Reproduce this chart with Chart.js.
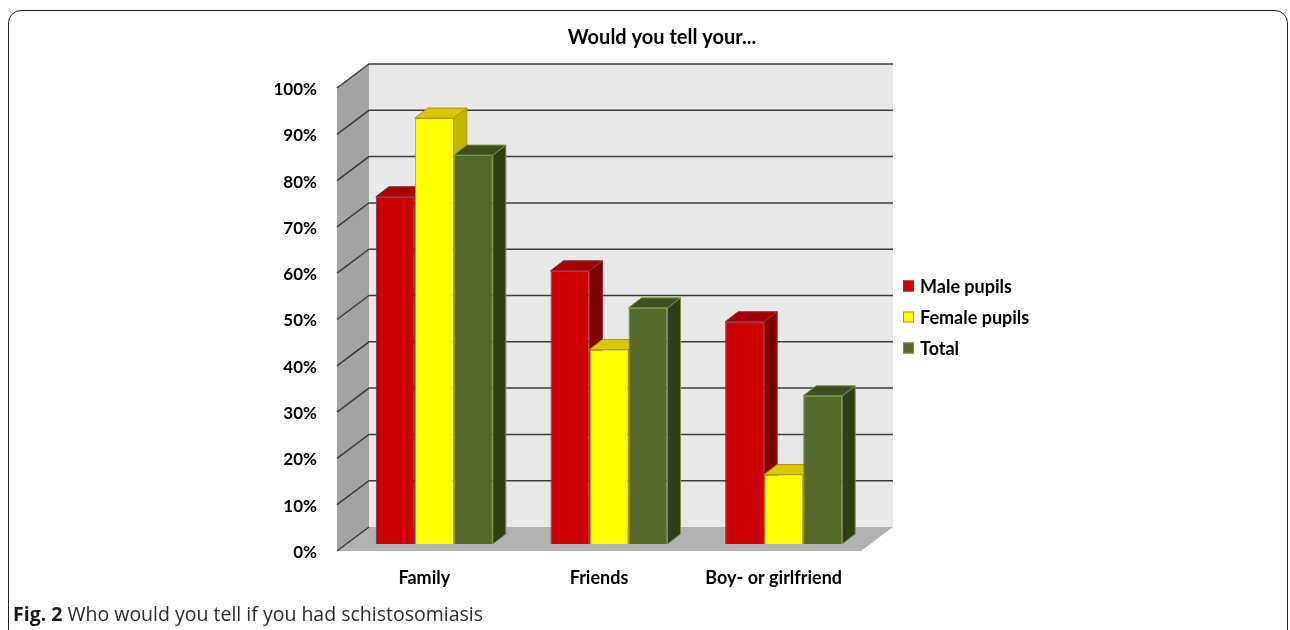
<!DOCTYPE html>
<html><head><meta charset="utf-8">
<script src="https://cdn.jsdelivr.net/npm/chart.js@4.4.1/dist/chart.umd.min.js"></script>
<style>
html,body{margin:0;padding:0;background:#fff;width:1290px;height:630px;overflow:hidden;}
#wrap{position:absolute;left:0;top:0;width:1290px;height:630px;}
#frame{position:absolute;left:8px;top:10px;width:1280px;height:700px;border:1.6px solid #1e1e1e;border-radius:13px;box-sizing:border-box;}
#caption{position:absolute;left:13px;top:600px;font-family:"Open Sans",sans-serif;font-size:19.5px;color:#2a2a2a;white-space:nowrap;}
#caption b{color:#1a1a1a;}
</style></head>
<body>
<div id="frame"></div>
<div id="wrap"><canvas id="c" width="1290" height="630"></canvas></div>
<div id="caption"><b>Fig. 2</b> Who would you tell if you had schistosomiasis</div>
<script>
const chartTitle = 'Would you tell your...';
const categories = ['Family', 'Friends', 'Boy- or girlfriend'];
const seriesNames = ['Male pupils', 'Female pupils', 'Total'];
const malePupils = [75, 59, 48];
const femalePupils = [92, 42, 15];
const totalPupils = [84, 51, 32];
const yTickValues = [0, 10, 20, 30, 40, 50, 60, 70, 80, 90, 100];

const frontColors = ['#cc0000', '#ffff00', '#55692a'];
const borderColors = ['#8a2848', '#b8901a', '#7f8f3c'];
const sideColors = ['#7e0000', '#c4b600', '#2f3e16'];
const topColors = ['#a40000', '#d8ca00', '#3f5020'];

const FONT = 'Lato, "Liberation Sans", sans-serif';

const threeD = {
  id: 'threeD',
  beforeDatasetsDraw(chart) {
    const { ctx, chartArea: a, scales } = chart;
    const y = scales.y;
    const BX = 22, BY = -17, FX = -10, FY = 7;
    const y0 = y.getPixelForValue(0), y100 = y.getPixelForValue(100);
    ctx.save();
    ctx.fillStyle = '#e8e8e8';
    ctx.fillRect(a.left + BX, y100 + BY, a.right - a.left, y0 - y100);
    ctx.fillStyle = '#a3a3a3';
    ctx.beginPath();
    ctx.moveTo(a.left + FX, y100 + FY);
    ctx.lineTo(a.left + BX, y100 + BY);
    ctx.lineTo(a.left + BX, y0 + BY);
    ctx.lineTo(a.left + FX, y0 + FY);
    ctx.closePath();
    ctx.fill();
    ctx.fillStyle = '#b2b2b2';
    ctx.beginPath();
    ctx.moveTo(a.left + FX, y0 + FY);
    ctx.lineTo(a.left + BX, y0 + BY);
    ctx.lineTo(a.right + BX, y0 + BY);
    ctx.lineTo(a.right + FX, y0 + FY);
    ctx.closePath();
    ctx.fill();
    ctx.strokeStyle = '#3c3c3c';
    ctx.lineWidth = 1.5;
    yTickValues.forEach(v => {
      const py = y.getPixelForValue(v);
      ctx.beginPath();
      ctx.moveTo(a.left + FX, py + FY);
      ctx.lineTo(a.left + BX, py + BY);
      if (v > 0) ctx.lineTo(a.right + BX, py + BY);
      ctx.stroke();
    });
    const DX = 13, DY = -10;
    ctx.lineWidth = 1;
    for (let i = 0; i < categories.length; i++) {
      for (let d = 0; d < chart.data.datasets.length; d++) {
        const el = chart.getDatasetMeta(d).data[i];
        const p = el.getProps(['x', 'y', 'base', 'width'], true);
        const l = p.x - p.width / 2, r = p.x + p.width / 2, t = p.y, b = p.base;
        ctx.strokeStyle = borderColors[d];
        ctx.fillStyle = sideColors[d];
        ctx.beginPath();
        ctx.moveTo(r, t); ctx.lineTo(r + DX, t + DY); ctx.lineTo(r + DX, b + DY); ctx.lineTo(r, b);
        ctx.closePath(); ctx.fill(); ctx.stroke();
        ctx.fillStyle = topColors[d];
        ctx.beginPath();
        ctx.moveTo(l, t); ctx.lineTo(l + DX, t + DY); ctx.lineTo(r + DX, t + DY); ctx.lineTo(r, t);
        ctx.closePath(); ctx.fill(); ctx.stroke();
      }
    }
    ctx.restore();
  },
  afterDraw(chart) {
    const { ctx } = chart;
    ctx.save();
    ctx.fillStyle = '#000';
    ctx.font = 'bold 20px ' + FONT;
    ctx.textAlign = 'center';
    ctx.textBaseline = 'middle';
    ctx.fillText(chartTitle, 662, 38);
    ctx.textAlign = 'left';
    ctx.font = 'bold 18px ' + FONT;
    chart.data.datasets.forEach((ds, d) => {
      const cy = 286 + d * 31;
      ctx.fillStyle = ds.backgroundColor;
      ctx.fillRect(903, cy - 5.5, 11, 11);
      ctx.strokeStyle = ds.borderColor;
      ctx.lineWidth = 1;
      ctx.strokeRect(903.5, cy - 5, 10, 10);
      ctx.fillStyle = '#000';
      ctx.fillText(ds.label, 920, cy + 1);
    });
    ctx.restore();
  }
};

const seriesValues = [malePupils, femalePupils, totalPupils];
new Chart(document.getElementById('c'), {
  type: 'bar',
  data: {
    labels: categories,
    datasets: seriesNames.map((n, d) => ({
      label: n,
      data: seriesValues[d],
      backgroundColor: frontColors[d],
      borderColor: borderColors[d],
      borderWidth: 1,
      categoryPercentage: 0.67,
      barPercentage: 1.0
    }))
  },
  options: {
    responsive: false,
    animation: false,
    devicePixelRatio: 1,
    layout: { padding: { left: 267, right: 419, top: 81, bottom: 26 } },
    plugins: { legend: { display: false }, title: { display: false }, tooltip: { enabled: false } },
    scales: {
      x: {
        grid: { display: false, drawTicks: false },
        border: { display: false },
        ticks: { font: { family: FONT, size: 18, weight: 'bold' }, color: '#000', padding: 23, labelOffset: -10, maxRotation: 0, autoSkip: false },
        afterFit: s => { s.height = 60; }
      },
      y: {
        min: 0, max: 100,
        grid: { display: false, drawTicks: false },
        border: { display: false },
        afterBuildTicks: s => { s.ticks = yTickValues.map(v => ({ value: v })); },
        ticks: { font: { family: FONT, size: 17, weight: 'bold' }, color: '#000', padding: 30, labelOffset: 8.5, callback: v => v + '%' },
        afterFit: s => { s.width = 80; }
      }
    }
  },
  plugins: [threeD]
});
</script>
</body></html>
